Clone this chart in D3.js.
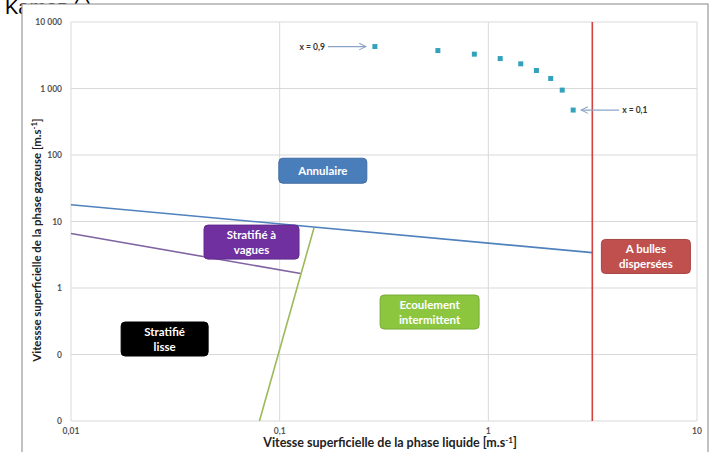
<!DOCTYPE html>
<html>
<head>
<meta charset="utf-8">
<script src="https://cdn.jsdelivr.net/npm/d3@7"></script>
<style>
  body { margin: 0; background: #fff; }
  svg { display: block; font-family: Lato, "Open Sans", sans-serif; }
</style>
</head>
<body>
<svg id="chart"></svg>
<script>
var width = 713;
var height = 452;

// points along the transition curve (titles x = 0,9 ... 0,1)
var qualities = [0.9, 0.8, 0.7, 0.6, 0.5, 0.4, 0.3, 0.2, 0.1];
var liquidSpeeds = [0.286, 0.573, 0.857, 1.14, 1.43, 1.70, 1.99, 2.26, 2.55];
var gasSpeeds = [4275, 3720, 3285, 2820, 2350, 1865, 1415, 946, 474];

// boundary lines, [liquid, gas] pairs
var annularLine = [[0.01, 17.9], [3.15, 3.4]];
var wavyLine = [[0.01, 6.6], [0.126, 1.65]];
var intermittentLine = [[0.08, 0.01], [0.146, 8.0]];
var bubbleLine = [[3.15, 0.01], [3.15, 10000]];

var xTicks = [0.01, 0.1, 1, 10];
var xTickLabels = ["0,01", "0,1", "1", "10"];
var yTicks = [0.01, 0.1, 1, 10, 100, 1000, 10000];
var yTickLabels = ["0", "0", "1", "10", "100", "1 000", "10 000"];

var regions = [
  { lines: ["Annulaire"], x: 0.161, y: 58, color: "#4a7ebb" },
  { lines: ["Stratifié à", "vagues"], x: 0.0733, y: 4.9, color: "#7030a0" },
  { lines: ["A bulles", "dispersées"], x: 5.69, y: 2.98, color: "#c0504d" },
  { lines: ["Ecoulement", "intermittent"], x: 0.523, y: 0.435, color: "#8cc63f" },
  { lines: ["Stratifié", "lisse"], x: 0.0281, y: 0.171, color: "#000000" }
];

var svg = d3.select("#chart").attr("width", width).attr("height", height);

// cut-off caption above the frame
svg.append("text")
  .attr("x", 5).attr("y", 14)
  .attr("font-family", "Liberation Sans, sans-serif")
  .attr("font-size", 20)
  .attr("fill", "#000")
  .text("Kamez (.)");

svg.append("rect")
  .attr("x", 22).attr("y", 4)
  .attr("width", 686).attr("height", 460)
  .attr("fill", "#fff")
  .attr("stroke", "#9a9a9a")
  .attr("stroke-width", 1.2);

var x = d3.scaleLog().domain([0.01, 10]).range([71, 697]);
var y = d3.scaleLog().domain([0.01, 10000]).range([421, 22]);

// grid
svg.append("g").selectAll("line")
  .data(yTicks)
  .enter().append("line")
  .attr("x1", 71).attr("x2", 697)
  .attr("y1", d => y(d)).attr("y2", d => y(d))
  .attr("stroke", "#d9d9d9").attr("stroke-width", 1);

svg.append("g").selectAll("line")
  .data(xTicks)
  .enter().append("line")
  .attr("x1", d => x(d)).attr("x2", d => x(d))
  .attr("y1", 22).attr("y2", 421)
  .attr("stroke", "#d9d9d9").attr("stroke-width", 1);

// tick labels
svg.append("g").selectAll("text")
  .data(yTicks)
  .enter().append("text")
  .attr("x", 62)
  .attr("y", d => y(d) + 3)
  .attr("text-anchor", "end")
  .attr("font-size", 8.5).attr("font-weight", "bold")
  .attr("fill", "#555")
  .text((d, i) => yTickLabels[i]);

svg.append("g").selectAll("text")
  .data(xTicks)
  .enter().append("text")
  .attr("x", d => x(d))
  .attr("y", 434)
  .attr("text-anchor", "middle")
  .attr("font-size", 8.5).attr("font-weight", "bold")
  .attr("fill", "#555")
  .text((d, i) => xTickLabels[i]);

// axis titles
svg.append("text")
  .attr("x", 390).attr("y", 447)
  .attr("text-anchor", "middle")
  .attr("font-size", 12.5).attr("font-weight", "bold")
  .attr("fill", "#222")
  .html("Vitesse superficielle de la phase liquide [m.s<tspan dy='-4' font-size='8'>-1</tspan><tspan dy='4'>]</tspan>");

svg.append("text")
  .attr("transform", "translate(41,240) rotate(-90)")
  .attr("text-anchor", "middle")
  .attr("font-size", 11.4).attr("font-weight", "bold")
  .attr("fill", "#222")
  .html("Vitessse superficielle de la phase gazeuse [m.s<tspan dy='-4' font-size='8'>-1</tspan><tspan dy='4'>]</tspan>");

// boundaries
var line = d3.line().x(d => x(d[0])).y(d => y(d[1]));
var boundaries = [
  { pts: annularLine, color: "#4f81bd" },
  { pts: wavyLine, color: "#8064a2" },
  { pts: intermittentLine, color: "#9bbb59" },
  { pts: bubbleLine, color: "#d0413f" }
];
svg.append("g").selectAll("path")
  .data(boundaries)
  .enter().append("path")
  .attr("d", d => line(d.pts))
  .attr("fill", "none")
  .attr("stroke", d => d.color)
  .attr("stroke-width", 1.6);

// points
svg.append("g").selectAll("rect")
  .data(liquidSpeeds)
  .enter().append("rect")
  .attr("x", d => x(d) - 2.5)
  .attr("y", (d, i) => y(gasSpeeds[i]) - 2.5)
  .attr("width", 5).attr("height", 5)
  .attr("fill", "#33a3bd");

// annotations
svg.append("defs").append("marker")
  .attr("id", "arr")
  .attr("viewBox", "0 0 10 10")
  .attr("refX", 9).attr("refY", 5)
  .attr("markerWidth", 7).attr("markerHeight", 7)
  .attr("orient", "auto-start-reverse")
  .append("path")
  .attr("d", "M1,1 L9,5 L1,9")
  .attr("fill", "none")
  .attr("stroke", "#8aa4c8")
  .attr("stroke-width", 1.2);

var first = 0, last = qualities.length - 1;
svg.append("line")
  .attr("x1", x(liquidSpeeds[first]) - 47).attr("x2", x(liquidSpeeds[first]) - 9)
  .attr("y1", y(gasSpeeds[first])).attr("y2", y(gasSpeeds[first]))
  .attr("stroke", "#8aa4c8").attr("stroke-width", 1.2)
  .attr("marker-end", "url(#arr)");
svg.append("text")
  .attr("x", x(liquidSpeeds[first]) - 50).attr("y", y(gasSpeeds[first]) + 3)
  .attr("text-anchor", "end")
  .attr("font-size", 8.5).attr("font-weight", "bold").attr("fill", "#333")
  .text("x = " + String(qualities[first]).replace(".", ","));

svg.append("line")
  .attr("x1", x(liquidSpeeds[last]) + 46).attr("x2", x(liquidSpeeds[last]) + 8)
  .attr("y1", y(gasSpeeds[last])).attr("y2", y(gasSpeeds[last]))
  .attr("stroke", "#8aa4c8").attr("stroke-width", 1.2)
  .attr("marker-end", "url(#arr)");
svg.append("text")
  .attr("x", x(liquidSpeeds[last]) + 49).attr("y", y(gasSpeeds[last]) + 3)
  .attr("font-size", 8.5).attr("font-weight", "bold").attr("fill", "#333")
  .text("x = " + String(qualities[last]).replace(".", ","));

// region boxes
var boxW = { "Annulaire": 88, "Stratifié à": 95, "A bulles": 89, "Ecoulement": 99, "Stratifié": 87 };
regions.forEach(function (r) {
  var w = boxW[r.lines[0]];
  var h = r.lines.length > 1 ? 34 : 25;
  var cx = x(r.x), cy = y(r.y);
  var g = svg.append("g");
  g.append("rect")
    .attr("x", cx - w / 2).attr("y", cy - h / 2)
    .attr("width", w).attr("height", h)
    .attr("rx", 4)
    .attr("fill", r.color)
    .attr("stroke", d3.color(r.color).darker(0.4))
    .attr("stroke-width", 1);
  g.selectAll("text")
    .data(r.lines)
    .enter().append("text")
    .attr("x", cx)
    .attr("y", (d, i) => cy + 4 + (i - (r.lines.length - 1) / 2) * 15)
    .attr("text-anchor", "middle")
    .attr("font-size", 11.5).attr("font-weight", "bold")
    .attr("fill", "#fff")
    .text(d => d);
});
</script>
</body>
</html>
